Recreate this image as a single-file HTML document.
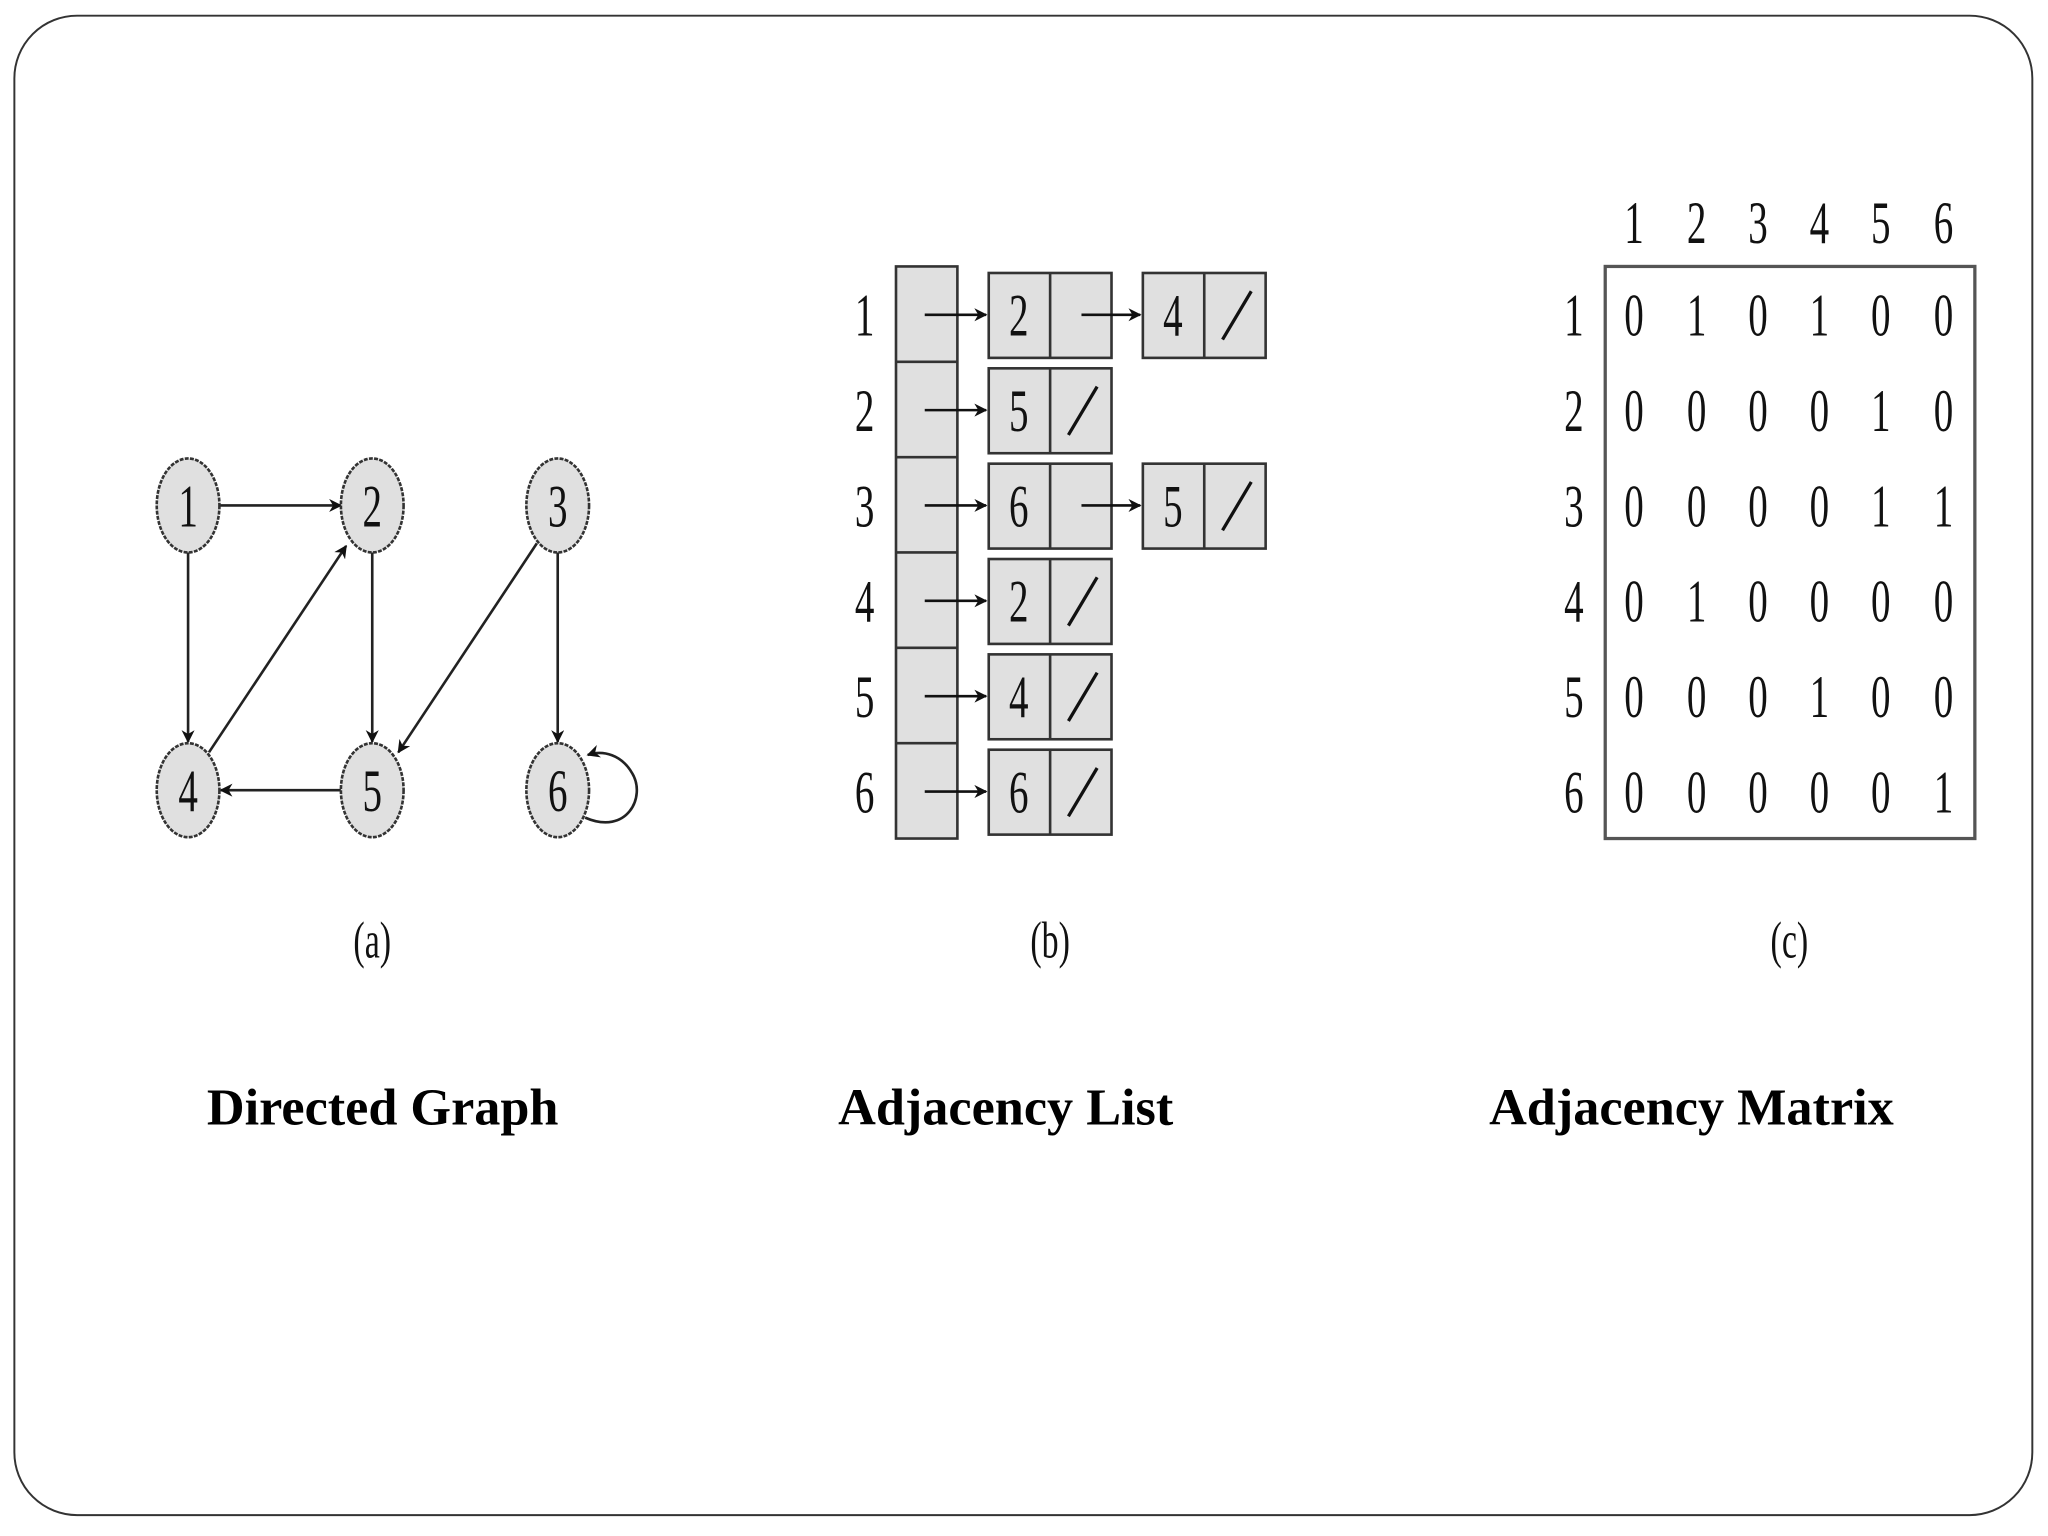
<!DOCTYPE html>
<html><head><meta charset="utf-8"><style>
html,body{margin:0;padding:0;background:#fff;}
svg{display:block}
.d{font-family:"Liberation Serif",serif;font-size:46px;fill:#111;text-anchor:middle}
.t{font-family:"Liberation Serif",serif;font-size:40px;font-weight:bold;fill:#000;text-anchor:middle}
</style></head><body>
<svg width="2048" height="1536" viewBox="0 0 1568 1176" xmlns="http://www.w3.org/2000/svg">
<defs>
<marker id="ah" markerWidth="10" markerHeight="10" refX="9" refY="5" orient="auto" markerUnits="userSpaceOnUse" viewBox="0 0 10 10">
<path d="M0,0 L10,5 L0,10 L3,5 Z" fill="#111"/></marker>
</defs>
<rect x="11" y="12" width="1545" height="1148" rx="48" fill="#fff" stroke="#333" stroke-width="1.5"/>

<!-- graph edges -->
<g stroke="#222" stroke-width="2" fill="none" marker-end="url(#ah)">
<line x1="168" y1="387" x2="261" y2="387"/>
<line x1="144" y1="423" x2="144" y2="568"/>
<line x1="285" y1="423" x2="285" y2="568"/>
<line x1="160" y1="576" x2="265" y2="418"/>
<line x1="411" y1="416" x2="305" y2="576"/>
<line x1="427" y1="423" x2="427" y2="568"/>
<line x1="261" y1="605" x2="169" y2="605"/>
<path d="M448,626 C480,640 495,610 484,592 C476,578 462,574 450,578"/>
</g>
<g fill="#e0e0e0" stroke="#333" stroke-width="2" stroke-dasharray="3,1">
<ellipse cx="144" cy="387" rx="24" ry="36"/>
<ellipse cx="285" cy="387" rx="24" ry="36"/>
<ellipse cx="427" cy="387" rx="24" ry="36"/>
<ellipse cx="144" cy="605" rx="24" ry="36"/>
<ellipse cx="285" cy="605" rx="24" ry="36"/>
<ellipse cx="427" cy="605" rx="24" ry="36"/>
</g>
<text class="d" transform="translate(144,403) scale(.65,1)">1</text>
<text class="d" transform="translate(285,403) scale(.65,1)">2</text>
<text class="d" transform="translate(427,403) scale(.65,1)">3</text>
<text class="d" transform="translate(144,621) scale(.65,1)">4</text>
<text class="d" transform="translate(285,621) scale(.65,1)">5</text>
<text class="d" transform="translate(427,621) scale(.65,1)">6</text>

<!-- adjacency list -->
<g fill="#e0e0e0" stroke="#333" stroke-width="2">
<rect x="686" y="204" width="47" height="438"/>
<line x1="686" y1="277" x2="733" y2="277"/><line x1="686" y1="350" x2="733" y2="350"/>
<line x1="686" y1="423" x2="733" y2="423"/><line x1="686" y1="496" x2="733" y2="496"/>
<line x1="686" y1="569" x2="733" y2="569"/>
<rect x="757" y="209" width="94" height="65"/><line x1="804" y1="209" x2="804" y2="274"/>
<rect x="757" y="282" width="94" height="65"/><line x1="804" y1="282" x2="804" y2="347"/>
<rect x="757" y="355" width="94" height="65"/><line x1="804" y1="355" x2="804" y2="420"/>
<rect x="757" y="428" width="94" height="65"/><line x1="804" y1="428" x2="804" y2="493"/>
<rect x="757" y="501" width="94" height="65"/><line x1="804" y1="501" x2="804" y2="566"/>
<rect x="757" y="574" width="94" height="65"/><line x1="804" y1="574" x2="804" y2="639"/>
<rect x="875" y="209" width="94" height="65"/><line x1="922" y1="209" x2="922" y2="274"/>
<rect x="875" y="355" width="94" height="65"/><line x1="922" y1="355" x2="922" y2="420"/>
</g>
<g stroke="#111" stroke-width="2.5">
<line x1="936" y1="260" x2="958" y2="223"/>
<line x1="936" y1="406" x2="958" y2="369"/>
<line x1="818" y1="333" x2="840" y2="296"/>
<line x1="818" y1="479" x2="840" y2="442"/>
<line x1="818" y1="552" x2="840" y2="515"/>
<line x1="818" y1="625" x2="840" y2="588"/>
</g>
<g stroke="#111" stroke-width="2" marker-end="url(#ah)">
<line x1="708" y1="241" x2="755" y2="241"/>
<line x1="708" y1="314" x2="755" y2="314"/>
<line x1="708" y1="387" x2="755" y2="387"/>
<line x1="708" y1="460" x2="755" y2="460"/>
<line x1="708" y1="533" x2="755" y2="533"/>
<line x1="708" y1="606" x2="755" y2="606"/>
<line x1="828" y1="241" x2="873" y2="241"/>
<line x1="828" y1="387" x2="873" y2="387"/>
</g>
<text class="d" transform="translate(662,257) scale(.65,1)">1</text>
<text class="d" transform="translate(662,330) scale(.65,1)">2</text>
<text class="d" transform="translate(662,403) scale(.65,1)">3</text>
<text class="d" transform="translate(662,476) scale(.65,1)">4</text>
<text class="d" transform="translate(662,549) scale(.65,1)">5</text>
<text class="d" transform="translate(662,622) scale(.65,1)">6</text>
<text class="d" transform="translate(780,257) scale(.65,1)">2</text>
<text class="d" transform="translate(780,330) scale(.65,1)">5</text>
<text class="d" transform="translate(780,403) scale(.65,1)">6</text>
<text class="d" transform="translate(780,476) scale(.65,1)">2</text>
<text class="d" transform="translate(780,549) scale(.65,1)">4</text>
<text class="d" transform="translate(780,622) scale(.65,1)">6</text>
<text class="d" transform="translate(898,257) scale(.65,1)">4</text>
<text class="d" transform="translate(898,403) scale(.65,1)">5</text>

<!-- matrix -->
<rect x="1229" y="204" width="283" height="438" fill="none" stroke="#555" stroke-width="2.5"/>
<g>
<text class="d" transform="translate(1251,186) scale(.65,1)">1</text>
<text class="d" transform="translate(1299,186) scale(.65,1)">2</text>
<text class="d" transform="translate(1346,186) scale(.65,1)">3</text>
<text class="d" transform="translate(1393,186) scale(.65,1)">4</text>
<text class="d" transform="translate(1440,186) scale(.65,1)">5</text>
<text class="d" transform="translate(1488,186) scale(.65,1)">6</text>
<text class="d" transform="translate(1205,257) scale(.65,1)">1</text>
<text class="d" transform="translate(1205,330) scale(.65,1)">2</text>
<text class="d" transform="translate(1205,403) scale(.65,1)">3</text>
<text class="d" transform="translate(1205,476) scale(.65,1)">4</text>
<text class="d" transform="translate(1205,549) scale(.65,1)">5</text>
<text class="d" transform="translate(1205,622) scale(.65,1)">6</text>
</g>
<g>
<text class="d" transform="translate(1251,257) scale(.65,1)">0</text><text class="d" transform="translate(1299,257) scale(.65,1)">1</text><text class="d" transform="translate(1346,257) scale(.65,1)">0</text><text class="d" transform="translate(1393,257) scale(.65,1)">1</text><text class="d" transform="translate(1440,257) scale(.65,1)">0</text><text class="d" transform="translate(1488,257) scale(.65,1)">0</text>
<text class="d" transform="translate(1251,330) scale(.65,1)">0</text><text class="d" transform="translate(1299,330) scale(.65,1)">0</text><text class="d" transform="translate(1346,330) scale(.65,1)">0</text><text class="d" transform="translate(1393,330) scale(.65,1)">0</text><text class="d" transform="translate(1440,330) scale(.65,1)">1</text><text class="d" transform="translate(1488,330) scale(.65,1)">0</text>
<text class="d" transform="translate(1251,403) scale(.65,1)">0</text><text class="d" transform="translate(1299,403) scale(.65,1)">0</text><text class="d" transform="translate(1346,403) scale(.65,1)">0</text><text class="d" transform="translate(1393,403) scale(.65,1)">0</text><text class="d" transform="translate(1440,403) scale(.65,1)">1</text><text class="d" transform="translate(1488,403) scale(.65,1)">1</text>
<text class="d" transform="translate(1251,476) scale(.65,1)">0</text><text class="d" transform="translate(1299,476) scale(.65,1)">1</text><text class="d" transform="translate(1346,476) scale(.65,1)">0</text><text class="d" transform="translate(1393,476) scale(.65,1)">0</text><text class="d" transform="translate(1440,476) scale(.65,1)">0</text><text class="d" transform="translate(1488,476) scale(.65,1)">0</text>
<text class="d" transform="translate(1251,549) scale(.65,1)">0</text><text class="d" transform="translate(1299,549) scale(.65,1)">0</text><text class="d" transform="translate(1346,549) scale(.65,1)">0</text><text class="d" transform="translate(1393,549) scale(.65,1)">1</text><text class="d" transform="translate(1440,549) scale(.65,1)">0</text><text class="d" transform="translate(1488,549) scale(.65,1)">0</text>
<text class="d" transform="translate(1251,622) scale(.65,1)">0</text><text class="d" transform="translate(1299,622) scale(.65,1)">0</text><text class="d" transform="translate(1346,622) scale(.65,1)">0</text><text class="d" transform="translate(1393,622) scale(.65,1)">0</text><text class="d" transform="translate(1440,622) scale(.65,1)">0</text><text class="d" transform="translate(1488,622) scale(.65,1)">1</text>
</g>

<!-- captions -->
<text class="d" transform="translate(285,733) scale(.65,1)" style="font-size:40px">(a)</text>
<text class="d" transform="translate(804,733) scale(.65,1)" style="font-size:40px">(b)</text>
<text class="d" transform="translate(1370,733) scale(.65,1)" style="font-size:40px">(c)</text>

<text class="t" x="293" y="861">Directed Graph</text>
<text class="t" x="770" y="861">Adjacency List</text>
<text class="t" x="1295" y="861">Adjacency Matrix</text>
</svg>
</body></html>
